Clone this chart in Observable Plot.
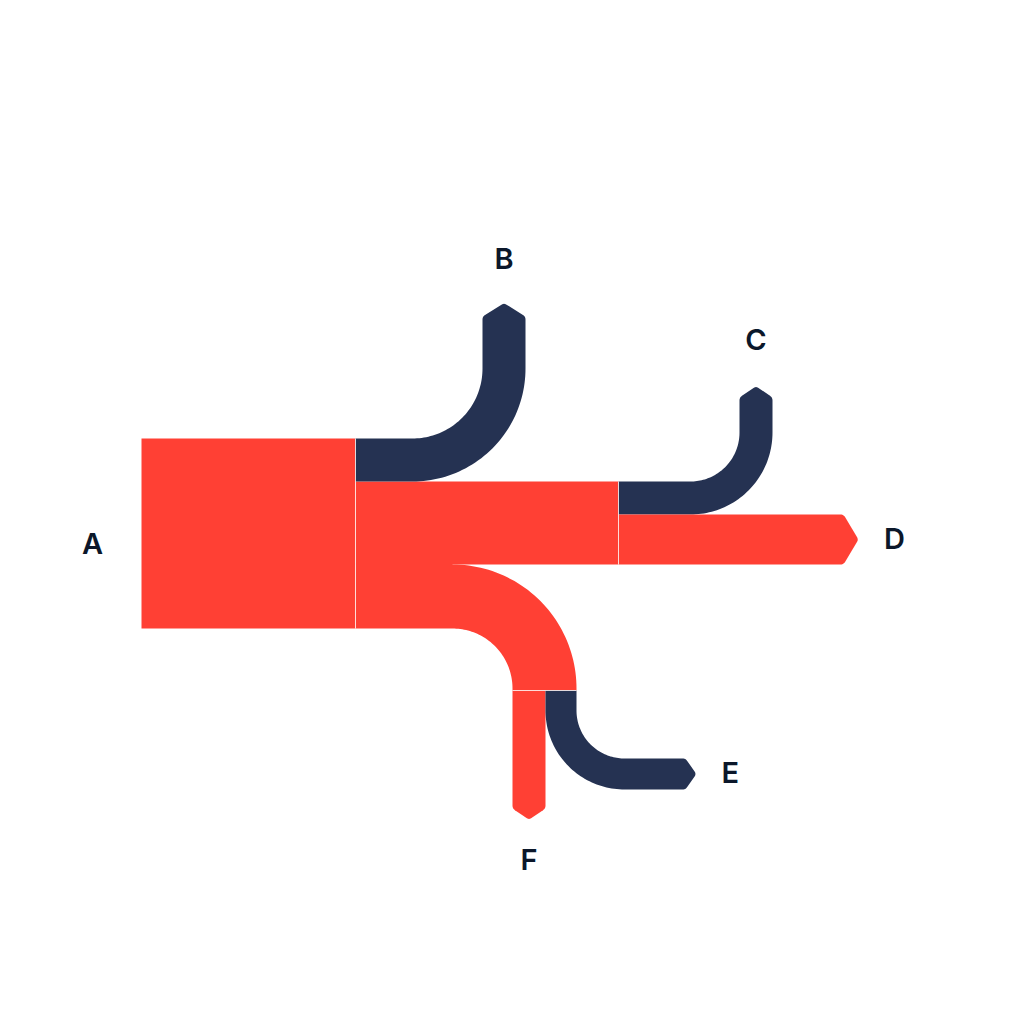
<!DOCTYPE html>
<html>
<head>
<meta charset="utf-8">
<script src="https://cdn.jsdelivr.net/npm/d3@7"></script>
<script src="https://cdn.jsdelivr.net/npm/@observablehq/plot@0.6"></script>
<style>
  html, body { margin: 0; padding: 0; background: #fff; }
  #chart { width: 1020px; height: 1020px; }
</style>
</head>
<body>
<div id="chart"></div>
<script>
// flow from A out to the five end nodes
const root = "A";
const targets = ["B", "C", "D", "E", "F"];
const values = [43, 33, 50, 31, 33];

const red = "#ff4034", navy = "#253252", ink = "#0b172a";
const colorOf = {A: red, mid: red, EF: red, B: navy, C: navy, D: red, E: navy, F: red};

const v = Object.fromEntries(targets.map((t, i) => [t, values[i]]));
const total = d3.sum(values);

// small geometry helpers (layout units = pixels)
const arc = (c, r, a0, a1, n = 48) =>
  d3.range(n + 1).map(i => {
    const a = a0 + (a1 - a0) * i / n;
    return [c[0] + r * Math.cos(a), c[1] + r * Math.sin(a)];
  });
const unit = (a, b) => { const dx = b[0] - a[0], dy = b[1] - a[1], l = Math.hypot(dx, dy); return [dx / l, dy / l]; };
const along = (p, d, s) => [p[0] + d[0] * s, p[1] + d[1] * s];
const bez = (a, c, b, n = 6) => d3.range(n + 1).map(i => {
  const t = i / n, u = 1 - t;
  return [u * u * a[0] + 2 * u * t * c[0] + t * t * b[0], u * u * a[1] + 2 * u * t * c[1] + t * t * b[1]];
});
const tipLen = w => 4 + 0.22 * w;
function arrowHead(b1, b2, dir, len, r = 3) {
  const tip = along([(b1[0] + b2[0]) / 2, (b1[1] + b2[1]) / 2], dir, len);
  const d1 = unit(b1, tip), d2 = unit(tip, b2);
  return [
    ...bez(along(b1, dir, -r), b1, along(b1, d1, r)),
    ...bez(along(tip, d1, -r), tip, along(tip, d2, r)),
    ...bez(along(b2, d2, -r), b2, along(b2, dir, -r))
  ];
}

// layout
const ax0 = 141, ax1 = 355, midX = 618, dEnd = 843;
const y0 = 533 - total / 2;
const yC = y0 + v.B, yD = yC + v.C, yEF = yD + v.D, yBot = yEF + v.E + v.F;
const wEF = v.E + v.F;

const shapes = [];
const add = (id, pts) => shapes.push({id, pts});

add("A", [[ax0, y0], [ax1, y0], [ax1, yBot], [ax0, yBot]]);
add("mid", [[ax1, yC], [midX, yC], [midX, yEF], [ax1, yEF]]);

// A -> B, turning up
const cB = [412, y0 - 70], rB = 70, endB = 316;
const bx = cB[0] + rB;
add("B", [[ax1, y0], ...arc(cB, rB, Math.PI / 2, 0),
  ...arrowHead([bx, endB], [bx + v.B, endB], [0, -1], tipLen(v.B)),
  ...arc(cB, rB + v.B, 0, Math.PI / 2), [ax1, y0 + v.B]]);

// mid -> C, turning up
const cC = [690, yC - 49], rC = 49, endC = 397;
const cx = cC[0] + rC;
add("C", [[midX, yC], ...arc(cC, rC, Math.PI / 2, 0),
  ...arrowHead([cx, endC], [cx + v.C, endC], [0, -1], tipLen(v.C)),
  ...arc(cC, rC + v.C, 0, Math.PI / 2), [midX, yC + v.C]]);

// mid -> D, straight on
add("D", [[midX, yD], ...arrowHead([dEnd, yD], [dEnd, yD + v.D], [1, 0], tipLen(v.D)), [midX, yD + v.D]]);

// mid -> E+F, turning down (overlaps the mid block by 1px so no seam shows)
const rEF = 60, cEF = [452, yBot + rEF], splitY = cEF[1] + 2;
const fx0 = cEF[0] + rEF, ex0 = fx0 + v.F, ex1 = ex0 + v.E;
add("EF", [[ax1, yEF - 1], [cEF[0], yEF - 1], ...arc(cEF, rEF + wEF, -Math.PI / 2, 0), [cEF[0] + rEF + wEF, splitY],
  [fx0, splitY], ...arc(cEF, rEF, 0, -Math.PI / 2), [ax1, yBot]]);

// EF -> F, straight down
const endF = 808;
add("F", [[fx0, splitY], ...arrowHead([fx0, endF], [fx0 + v.F, endF], [0, 1], tipLen(v.F)), [fx0 + v.F, splitY]]);

// EF -> E, turning right
const rE = 48, cE = [ex1 + rE, splitY + 20], endE = 685;
add("E", [[ex1, splitY], ...arc(cE, rE, Math.PI, Math.PI / 2),
  ...arrowHead([endE, cE[1] + rE], [endE, cE[1] + rE + v.E], [1, 0], tipLen(v.E)),
  ...arc(cE, rE + v.E, Math.PI / 2, Math.PI), [ex0, splitY]]);

const order = ["A", "mid", "EF", "B", "C", "D", "F", "E"];
const rows = order.flatMap(id => shapes.find(s => s.id === id).pts.map(([x, y]) => ({id, x, y, color: colorOf[id]})));

const separators = [
  {x1: ax1, y1: y0, x2: ax1, y2: yBot},
  {x1: midX, y1: yC, x2: midX, y2: yEF},
  {x1: fx0, y1: splitY, x2: ex1, y2: splitY}
];

const labels = [
  {name: root, x: ax0 - 49, y: (y0 + yBot) / 2 + 11},
  {name: "B", x: bx + v.B / 2, y: endB - tipLen(v.B) - 43},
  {name: "C", x: cx + v.C / 2, y: endC - tipLen(v.C) - 46},
  {name: "D", x: dEnd + tipLen(v.D) + 36, y: yD + v.D / 2},
  {name: "E", x: endE + tipLen(v.E) + 34, y: cE[1] + rE + v.E / 2},
  {name: "F", x: fx0 + v.F / 2, y: endF + tipLen(v.F) + 41}
];

const chart = Plot.plot({
  width: 1020,
  height: 1020,
  margin: 0,
  x: {domain: [0, 1020], range: [0, 1020], axis: null},
  y: {domain: [0, 1020], range: [0, 1020], axis: null},
  color: {type: "identity"},
  style: {background: "#ffffff"},
  marks: [
    Plot.line(rows, {x: "x", y: "y", z: "id", fill: "color", stroke: "none", curve: "linear"}),
    Plot.link(separators, {x1: "x1", y1: "y1", x2: "x2", y2: "y2", stroke: "#ffffff", strokeWidth: 1, strokeOpacity: 0.75}),
    Plot.text(labels, {x: "x", y: "y", text: "name", fill: ink, fontSize: 29, fontWeight: 600,
      fontFamily: "Inter, 'Noto Sans', sans-serif", textAnchor: "middle", lineAnchor: "middle"})
  ]
});

d3.select("#chart").append(() => chart);
</script>
</body>
</html>
